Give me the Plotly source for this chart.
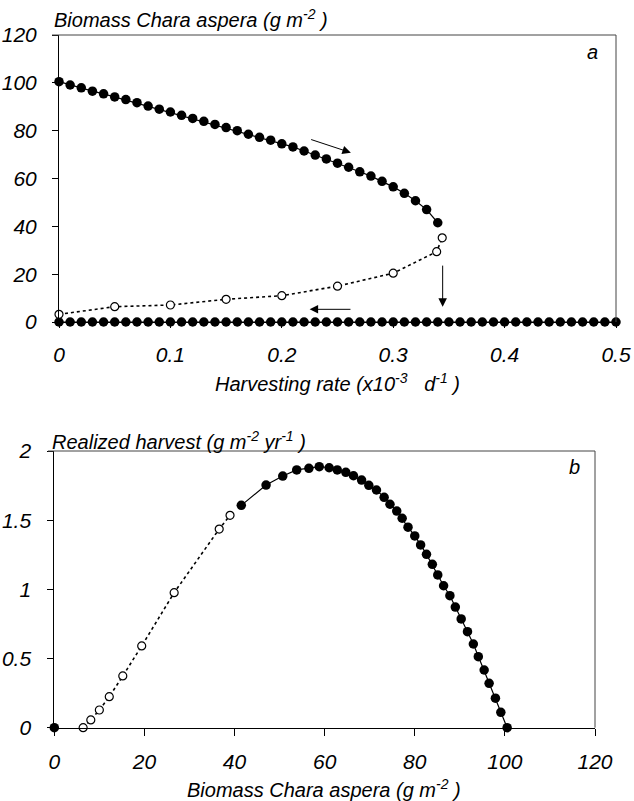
import plotly.graph_objects as go

# ---------------- data ----------------
# Panel a: upper stable branch (filled)
rate_upper = [0.00, 0.01, 0.02, 0.03, 0.04, 0.05, 0.06, 0.07, 0.08, 0.09,
              0.10, 0.11, 0.12, 0.13, 0.14, 0.15, 0.16, 0.17, 0.18, 0.19,
              0.20, 0.21, 0.22, 0.23, 0.24, 0.25, 0.26, 0.27, 0.28, 0.29,
              0.30, 0.31, 0.32, 0.33, 0.34]
biomass_upper = [100.5, 99.1, 97.9, 96.5, 95.4, 94.1, 93.0, 91.7, 90.3, 89.0,
                 87.8, 86.4, 85.1, 83.9, 82.6, 81.3, 80.0, 78.5, 77.2, 76.0,
                 74.5, 73.2, 71.5, 69.8, 68.2, 66.4, 64.7, 62.8, 61.0, 58.8,
                 56.5, 53.8, 50.7, 47.0, 41.5]
# Panel a: lower stable branch (filled, zero biomass)
rate_lower = [0.00, 0.01, 0.02, 0.03, 0.04, 0.05, 0.06, 0.07, 0.08, 0.09,
              0.10, 0.11, 0.12, 0.13, 0.14, 0.15, 0.16, 0.17, 0.18, 0.19,
              0.20, 0.21, 0.22, 0.23, 0.24, 0.25, 0.26, 0.27, 0.28, 0.29,
              0.30, 0.31, 0.32, 0.33, 0.34, 0.35, 0.36, 0.37, 0.38, 0.39,
              0.40, 0.41, 0.42, 0.43, 0.44, 0.45, 0.46, 0.47, 0.48, 0.49, 0.50]
biomass_lower = [0.0] * len(rate_lower)
# Panel a: unstable branch (open)
rate_unstable = [0.00, 0.05, 0.10, 0.15, 0.20, 0.25, 0.30, 0.339, 0.344]
biomass_unstable = [3.2, 6.4, 7.1, 9.5, 11.0, 15.0, 20.4, 29.4, 35.2]

# Panel b: realized harvest along the upper branch
harvest_upper = [0.0, 0.111, 0.213, 0.321, 0.417, 0.513, 0.605, 0.694, 0.786, 0.872,
                 0.954, 1.026, 1.104, 1.181, 1.253, 1.321, 1.386, 1.449, 1.514, 1.566,
                 1.615, 1.665, 1.718, 1.752, 1.790, 1.821, 1.846, 1.863, 1.879, 1.887,
                 1.875, 1.863, 1.819, 1.754, 1.607]
# Panel b: unstable branch (open)
biomass_b_open = [6.4, 8.1, 10.0, 12.2, 15.2, 19.4, 26.6, 36.6, 39.0]
harvest_b_open = [0.0, 0.056, 0.128, 0.224, 0.374, 0.591, 0.976, 1.436, 1.535]
# Panel b: collapsed state
biomass_b_zero = [0.0]
harvest_b_zero = [0.0]

# ---------------- figure ----------------
W, H = 634, 801
FONT = "Liberation Sans, Arial, sans-serif"

def px_x(p):
    return p / W

def px_y(p):
    return (H - p) / H

fig = go.Figure()

filled = dict(color="black", size=9.5)
opencirc = dict(color="white", size=8, line=dict(color="black", width=1.2))

# panel a
fig.add_trace(go.Scatter(x=rate_upper, y=biomass_upper, mode="lines+markers",
                         line=dict(color="black", width=1.2), marker=filled,
                         xaxis="x", yaxis="y", cliponaxis=False))
fig.add_trace(go.Scatter(x=rate_lower, y=biomass_lower, mode="lines+markers",
                         line=dict(color="black", width=1.2), marker=filled,
                         xaxis="x", yaxis="y", cliponaxis=False))
fig.add_trace(go.Scatter(x=rate_unstable, y=biomass_unstable, mode="lines+markers",
                         line=dict(color="black", width=1.6, dash="dot"), marker=opencirc,
                         xaxis="x", yaxis="y", cliponaxis=False))

# panel b
fig.add_trace(go.Scatter(x=biomass_upper, y=harvest_upper, mode="lines+markers",
                         line=dict(color="black", width=1.2), marker=filled,
                         xaxis="x2", yaxis="y2", cliponaxis=False))
fig.add_trace(go.Scatter(x=biomass_b_open, y=harvest_b_open, mode="lines+markers",
                         line=dict(color="black", width=1.6, dash="dot"), marker=opencirc,
                         xaxis="x2", yaxis="y2", cliponaxis=False))
fig.add_trace(go.Scatter(x=biomass_b_zero, y=harvest_b_zero, mode="markers",
                         marker=filled, xaxis="x2", yaxis="y2", cliponaxis=False))

tickfont = dict(family=FONT, size=21, color="black", style="italic")
common = dict(showgrid=False, zeroline=False, showline=True, linecolor="black",
              linewidth=1, ticks="outside", tickcolor="black", tickwidth=1,
              tickfont=tickfont, fixedrange=True, automargin=False)

fig.update_layout(
    width=W, height=H,
    margin=dict(l=0, r=0, t=0, b=0, pad=0, autoexpand=False),
    paper_bgcolor="white", plot_bgcolor="white",
    showlegend=False,
    xaxis=dict(domain=[px_x(59), px_x(616)], range=[0, 0.5],
               tickvals=[0, 0.1, 0.2, 0.3, 0.4, 0.5],
               ticktext=["0", "0.1", "0.2", "0.3", "0.4", "0.5"],
               ticklen=5, ticklabelstandoff=9, anchor="y", **common),
    yaxis=dict(domain=[px_y(322), px_y(35)], range=[0, 120],
               tickvals=[0, 20, 40, 60, 80, 100, 120],
               ticklen=6, ticklabelstandoff=11, anchor="x", **common),
    xaxis2=dict(domain=[px_x(54.3), px_x(595)], range=[0, 120],
                tickvals=[0, 20, 40, 60, 80, 100, 120],
                ticklen=7, ticklabelstandoff=8, anchor="y2", **common),
    yaxis2=dict(domain=[px_y(727.7), px_y(451)], range=[0, 2],
                tickvals=[0, 0.5, 1, 1.5, 2],
                ticktext=["0", "0.5", "1", "1.5", "2"],
                ticklen=6, ticklabelstandoff=12, anchor="x2", **common),
)

# frame lines (top and right)
frame = dict(type="line", xref="paper", yref="paper", line=dict(color="#444444", width=1))
fig.add_shape(x0=px_x(52), x1=px_x(616), y0=px_y(35), y1=px_y(35), **frame)
fig.add_shape(x0=px_x(616), x1=px_x(616), y0=px_y(35), y1=px_y(322), **frame)
fig.add_shape(x0=px_x(48), x1=px_x(595), y0=px_y(451), y1=px_y(451), **frame)
fig.add_shape(x0=px_x(595), x1=px_x(595), y0=px_y(451), y1=px_y(727.7), **frame)

titlefont = dict(family=FONT, size=20, color="black", style="italic")
def txt(x, y, s, xanchor="left", yanchor="middle"):
    fig.add_annotation(x=x, y=y, xref="paper", yref="paper", text=s, showarrow=False,
                       xanchor=xanchor, yanchor=yanchor, font=titlefont)

txt(px_x(52), px_y(19), "Biomass Chara aspera (g m<sup>-2</sup> )")
txt(px_x(337), px_y(383), "Harvesting rate (x10<sup>-3</sup>   d<sup>-1</sup> )", xanchor="center")
txt(px_x(592), px_y(52), "a", xanchor="center")
txt(px_x(50), px_y(440), "Realized harvest (g m<sup>-2</sup> yr<sup>-1</sup> )")
txt(px_x(324), px_y(788), "Biomass Chara aspera (g m<sup>-2</sup> )", xanchor="center")
txt(px_x(574), px_y(467), "b", xanchor="center")

# arrows in panel a
def arrow(x0, y0, x1, y1):
    fig.add_annotation(x=x1, y=y1, ax=x0, ay=y0, xref="x", yref="y", axref="x", ayref="y",
                       showarrow=True, arrowhead=2, arrowsize=1.7, arrowwidth=1,
                       arrowcolor="black", text="")

arrow(0.225, 76.5, 0.262, 70.8)
arrow(0.3444, 24.2, 0.3444, 6.4)
arrow(0.263, 5.3, 0.225, 5.3)

fig.write_html("out.html", config={"displayModeBar": False},
               post_script="document.body.style.margin='0';document.body.style.overflow='hidden';")
